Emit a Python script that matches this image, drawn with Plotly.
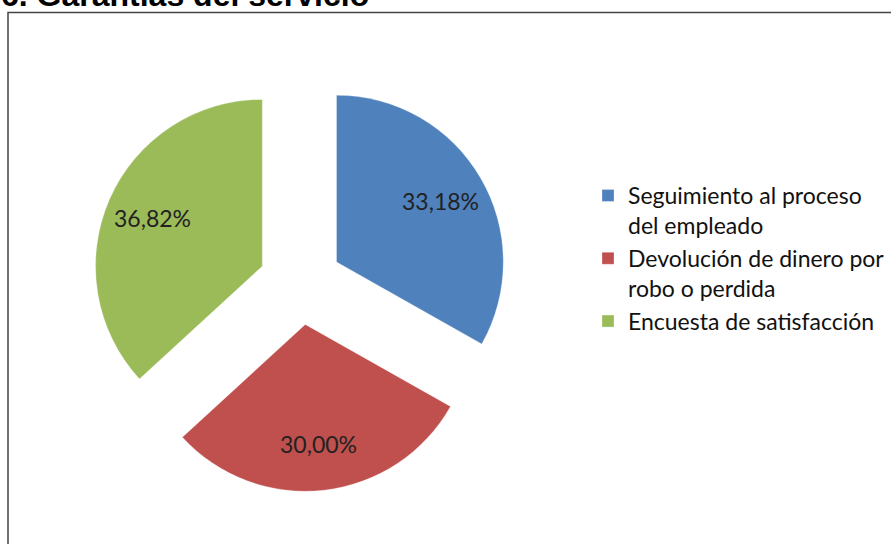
import math
import plotly.graph_objects as go

W, H = 891, 544

labels = [
    "Seguimiento al proceso<br>del empleado",
    "Devolución de dinero por<br>robo o perdida",
    "Encuesta de satisfacción",
]
values = [33.18, 30.00, 36.82]
colors = ["#4F81BD", "#C0504D", "#9BBB59"]
title_text = "6. Garantías del servicio"

PULL = 0.25
# pie domain in pixels
dx0, dx1 = 92, 509
dy0, dy1 = 74, 492

fig = go.Figure()
fig.add_trace(go.Pie(
    labels=labels,
    values=values,
    sort=False,
    direction="clockwise",
    rotation=0,
    pull=[PULL] * len(values),
    marker=dict(colors=colors, line=dict(color="rgba(255,255,255,0.6)", width=0.5)),
    textinfo="none",
    hoverinfo="label+percent",
    domain=dict(x=[dx0 / W, dx1 / W], y=[1 - dy1 / H, 1 - dy0 / H]),
))

# percentage labels placed along each slice's bisector (derived from values)
cx, cy = (dx0 + dx1) / 2, (dy0 + dy1) / 2
r = min(dx1 - dx0, dy1 - dy0) / (2 + 2 * PULL)
total = sum(values)
annotations = []
acc = 0.0
for v in values:
    mid = (acc + v / 2) / total * 2 * math.pi
    acc += v
    k = PULL + 0.72
    px = cx + k * r * math.sin(mid)
    py = cy - k * r * math.cos(mid)
    txt = f"{v / total * 100:.2f}%".replace(".", ",")
    annotations.append(dict(
        text=txt, xref="paper", yref="paper", x=px / W, y=1 - py / H,
        xanchor="center", yanchor="middle", showarrow=False,
        font=dict(family="Lato", size=23, color="#222222"),
    ))

annotations.append(dict(
    text="<b>" + title_text + "</b>",
    xref="paper", yref="paper", x=0, y=1,
    xanchor="left", yanchor="bottom", yshift=-15, xshift=-1,
    showarrow=False,
    font=dict(family="Liberation Sans, Arial", size=32, color="#000000"),
))

fig.update_layout(
    width=W, height=H,
    margin=dict(l=0, r=0, t=0, b=0),
    paper_bgcolor="white",
    plot_bgcolor="white",
    separators=",.",
    showlegend=True,
    legend=dict(
        x=588 / W, y=1 - 174 / H, xanchor="left", yanchor="top",
        font=dict(family="Lato", size=23, color="#111111"),
        valign="top",
        bgcolor="rgba(0,0,0,0)",
    ),
    shapes=[dict(
        type="rect", xref="paper", yref="paper",
        x0=8 / W, x1=1.02, y0=-0.02, y1=1 - 12.5 / H,
        line=dict(color="#444444", width=1.5),
        fillcolor="rgba(0,0,0,0)",
    )],
    annotations=annotations,
)

fig.write_html("out.html")
